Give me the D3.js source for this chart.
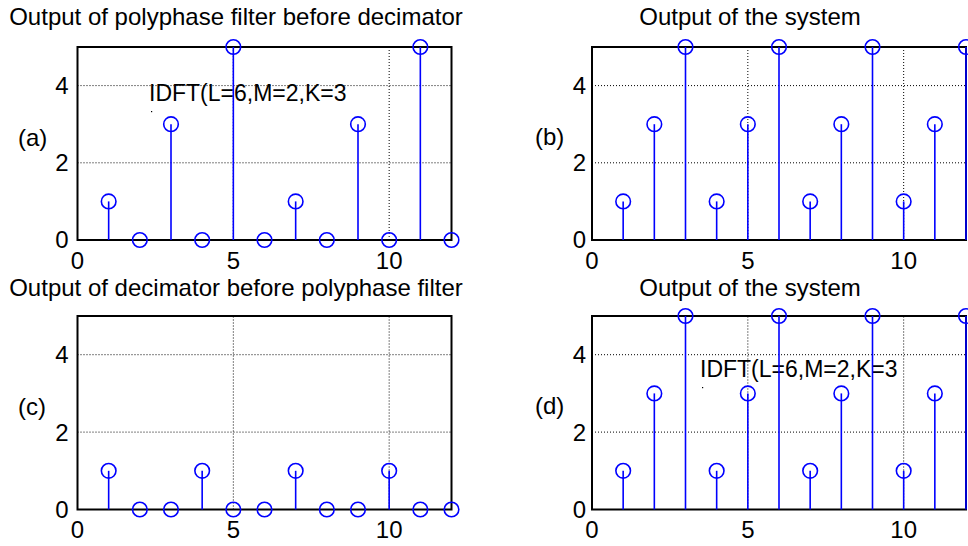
<!DOCTYPE html>
<html><head><meta charset="utf-8">
<script src="https://cdn.jsdelivr.net/npm/d3@7"></script>
<style>
html,body{margin:0;padding:0;background:#fff;}
svg{display:block;}
text{font-family:Arial,"Liberation Sans",Helvetica,sans-serif;fill:#000;}
</style></head>
<body>
<svg id="chart" width="968" height="546"></svg>
<script>
// ---- data ----
const sampleIndex = [1,2,3,4,5,6,7,8,9,10,11,12];
const seriesA = [1,0,3,0,5,0,1,0,3,0,5,0];   // polyphase filter before decimator
const seriesB = [1,3,5,1,3,5,1,3,5,1,3,5];   // output of the system
const seriesC = [1,0,0,1,0,0,1,0,0,1,0,0];   // decimator before polyphase filter
const seriesD = [1,3,5,1,3,5,1,3,5,1,3,5];   // output of the system
const xTickValues = [0,5,10];
const yTickValues = [0,2,4];
const xGridValues = [5,10];
const yGridValues = [2,4];
const titles = ["Output of polyphase filter before decimator","Output of the system",
                "Output of decimator before polyphase filter","Output of the system"];
const panelLabels = ["(a)","(b)","(c)","(d)"];
const annotationText = "IDFT(L=6,M=2,K=3";

// ---- layout ----
const panels = [
  {vals:seriesA, x0:77.5, x1:451.5, y0:240, y1:47, title:titles[0], tx:236, ty:25, lab:panelLabels[0], lx:18, ly:146, tickGap:9, ann:{x:149,y:101}},
  {vals:seriesB, x0:592, x1:966, y0:240, y1:47, title:titles[1], tx:750, ty:25, lab:panelLabels[1], lx:535, ly:145, tickGap:6, ann:null},
  {vals:seriesC, x0:77.5, x1:451.5, y0:509.5, y1:316, title:titles[2], tx:236, ty:295.5, lab:panelLabels[2], lx:18, ly:415, tickGap:9, ann:null},
  {vals:seriesD, x0:592, x1:966, y0:509.5, y1:316, title:titles[3], tx:750, ty:295.5, lab:panelLabels[3], lx:535, ly:414, tickGap:6, ann:{x:700,y:377}}
];
const FS = 24;
const FS_ANN = 23;
const blue = "#0000ff";

const svg = d3.select("#chart");

panels.forEach(p => {
  const x = d3.scaleLinear().domain([0,12]).range([p.x0,p.x1]);
  const y = d3.scaleLinear().domain([0,5]).range([p.y0,p.y1]);
  const g = svg.append("g");

  // grid
  g.selectAll(".gx").data(xGridValues).join("line")
    .attr("x1",d=>x(d)).attr("x2",d=>x(d)).attr("y1",p.y0).attr("y2",p.y1)
    .attr("stroke","#000").attr("stroke-width",1).attr("stroke-dasharray","1,2");
  g.selectAll(".gy").data(yGridValues).join("line")
    .attr("x1",p.x0).attr("x2",p.x1).attr("y1",d=>y(d)).attr("y2",d=>y(d))
    .attr("stroke","#000").attr("stroke-width",1).attr("stroke-dasharray","1,2");

  // frame
  g.append("rect").attr("x",p.x0).attr("y",p.y1).attr("width",p.x1-p.x0).attr("height",p.y0-p.y1)
    .attr("fill","none").attr("stroke","#000").attr("stroke-width",2);

  // tick labels
  g.selectAll(".xt").data(xTickValues).join("text")
    .attr("x",d=>x(d)).attr("y",p.y0+28.5).attr("text-anchor","middle")
    .attr("font-size",FS).text(d=>d);
  g.selectAll(".yt").data(yTickValues).join("text")
    .attr("x",p.x0-p.tickGap).attr("y",d=>y(d)).attr("dy","0.35em").attr("text-anchor","end")
    .attr("font-size",FS).text(d=>d);

  // title & panel label
  g.append("text").attr("x",p.tx).attr("y",p.ty).attr("text-anchor","middle").attr("font-size",FS).text(p.title);
  g.append("text").attr("x",p.lx).attr("y",p.ly).attr("font-size",FS).text(p.lab);

  // annotation
  if (p.ann) {
    g.append("text").attr("x",p.ann.x).attr("y",p.ann.y).attr("font-size",FS_ANN).text(annotationText);
    g.append("rect").attr("x",p.ann.x+2).attr("y",p.ann.y+10).attr("width",1.2).attr("height",1.2).attr("fill","#000");
  }

  // stems
  g.selectAll(".stem").data(sampleIndex).join("line")
    .attr("x1",d=>x(d)).attr("x2",d=>x(d)).attr("y1",y(0)).attr("y2",(d,i)=>y(p.vals[i]))
    .attr("stroke",blue).attr("stroke-width",1.6);
  g.selectAll(".mk").data(sampleIndex).join("circle")
    .attr("cx",d=>x(d)).attr("cy",(d,i)=>y(p.vals[i])).attr("r",7.3)
    .attr("fill","none").attr("stroke",blue).attr("stroke-width",1.6);
});
</script>
</body></html>
